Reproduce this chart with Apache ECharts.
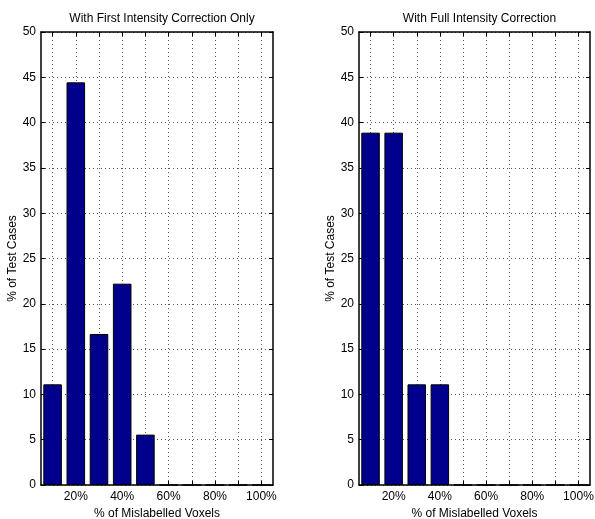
<!DOCTYPE html>
<html><head><meta charset="utf-8">
<script src="https://cdn.jsdelivr.net/npm/echarts@6/dist/echarts.min.js"></script>
<style>html,body{margin:0;padding:0;background:#fff}#c{width:595px;height:519px}</style>
</head><body><div id="c"></div><script>
const categories = ['10%','20%','30%','40%','50%','60%','70%','80%','90%','100%'];
const firstCorrection = [11.11, 44.44, 16.67, 22.22, 5.56, 0, 0, 0, 0, 0];
const fullCorrection = [38.89, 38.89, 11.11, 11.11, 0, 0, 0, 0, 0, 0];
const titles = ['With First Intensity Correction Only', 'With Full Intensity Correction'];
const yAxisName = '% of Test Cases';
const xAxisName = '% of Mislabelled Voxels';
const yMin = 0, yMax = 50, yStep = 5;

const FONT = "'Liberation Sans', Arial, Helvetica, sans-serif";
const FS = 12;
const grids = [
  {left: 41, right: 322, top: 32, bottom: 34, containLabel: false, outerBoundsMode: 'none'},
  {left: 359, right: 5, top: 32, bottom: 34, containLabel: false, outerBoundsMode: 'none'}
];
const seriesData = [firstCorrection, fullCorrection];
const dottedStyle = {color: '#555', type: [1, 3], width: 1};
const axisStyle = {color: '#000', width: 1.5};
// half-band slots so grid lines can sit on the bar centres
const slots = [''].concat(categories.flatMap(c => [c, '']));

const xAxis = [], yAxis = [], series = [], title = [];
grids.forEach((g, i) => {
  title.push({text: titles[i], left: g.left + (595 - g.left - g.right) / 2, top: 8, textAlign: 'center',
    textStyle: {fontFamily: FONT, fontSize: FS, fontWeight: 'normal', color: '#000'}});
  xAxis.push({type: 'category', gridIndex: i, data: categories, position: 'bottom',
    axisLine: {show: true, onZero: false, lineStyle: axisStyle},
    axisTick: {show: true, inside: true, length: 4, alignWithLabel: true, interval: 0, lineStyle: {color: '#000'}},
    axisLabel: {interval: (idx) => idx % 2 === 1, color: '#000', fontFamily: FONT, fontSize: FS, margin: 6},
    splitLine: {show: false},
    name: xAxisName, nameLocation: 'middle', nameGap: 20,
    nameTextStyle: {color: '#000', fontFamily: FONT, fontSize: FS}
  });
  xAxis.push({type: 'category', gridIndex: i, data: categories, position: 'top',
    axisLine: {show: true, onZero: false, lineStyle: axisStyle},
    axisTick: {show: true, inside: true, length: 4, alignWithLabel: true, interval: 0, lineStyle: {color: '#000'}},
    axisLabel: {show: false}, splitLine: {show: false}
  });
  xAxis.push({type: 'category', gridIndex: i, data: slots, boundaryGap: false, position: 'bottom',
    axisLine: {show: false}, axisTick: {show: false}, axisLabel: {show: false},
    splitLine: {show: true, interval: (idx) => idx % 2 === 1, lineStyle: dottedStyle}
  });
  yAxis.push({type: 'value', gridIndex: i, min: yMin, max: yMax, interval: yStep, position: 'left',
    axisLine: {show: true, lineStyle: axisStyle},
    axisTick: {show: true, inside: true, length: 4, lineStyle: {color: '#000'}},
    axisLabel: {color: '#000', fontFamily: FONT, fontSize: FS, margin: 5},
    splitLine: {show: true, lineStyle: dottedStyle},
    name: yAxisName, nameLocation: 'middle', nameGap: 18,
    nameTextStyle: {color: '#000', fontFamily: FONT, fontSize: FS}
  });
  yAxis.push({type: 'value', gridIndex: i, min: yMin, max: yMax, interval: yStep, position: 'right',
    axisLine: {show: true, lineStyle: axisStyle},
    axisTick: {show: true, inside: true, length: 4, lineStyle: {color: '#000'}},
    axisLabel: {show: false}, splitLine: {show: false}
  });
  series.push({type: 'bar', xAxisIndex: i * 3, yAxisIndex: i * 2, data: seriesData[i],
    barWidth: '80%', itemStyle: {color: '#00008c', borderColor: '#000', borderWidth: 1}, silent: true, z: 3});
});

const chart = echarts.init(document.getElementById('c'), null, {renderer: 'canvas'});
chart.setOption({animation: false, backgroundColor: '#fff', title, grid: grids, xAxis, yAxis, series});
</script></body></html>
